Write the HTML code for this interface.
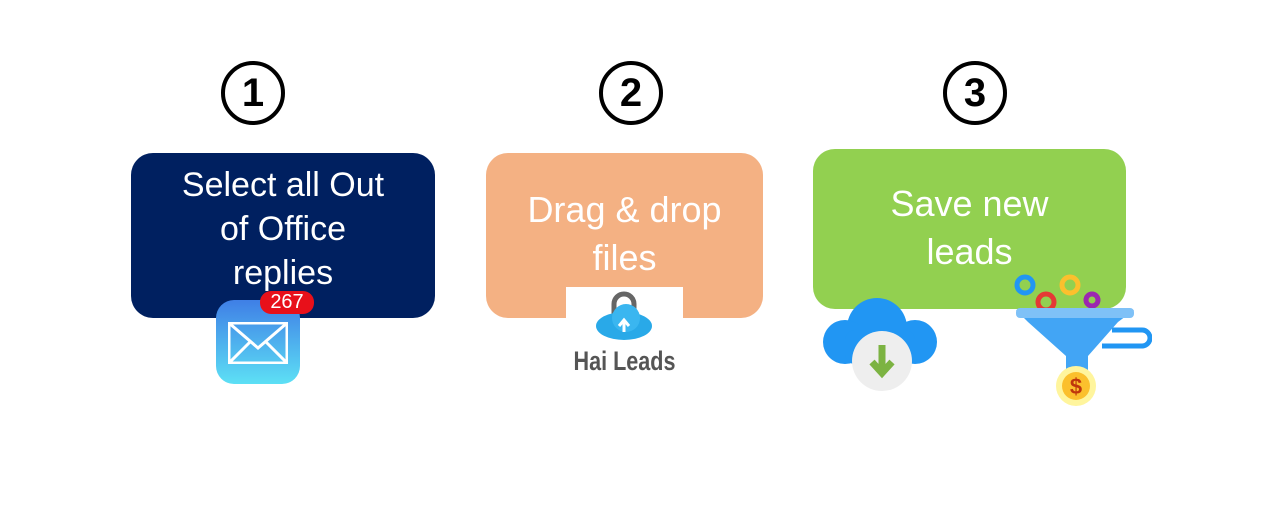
<!DOCTYPE html>
<html><head><style>
body{margin:0;width:1271px;height:509px;background:#fff;position:relative;overflow:hidden;font-family:"Liberation Sans",sans-serif}
.n{position:absolute;width:56px;height:56px;border:4px solid #000;border-radius:50%;text-align:center;line-height:56px;font-size:40px;font-weight:bold;color:#000}
.b{position:absolute;border-radius:22px;color:#fff;text-align:center;font-size:34px}
.b div{position:absolute;left:0;right:0}
</style></head><body>
<div class="n" style="left:221px;top:61px">1</div>
<div class="n" style="left:599px;top:61px">2</div>
<div class="n" style="left:943px;top:61px">3</div>

<div class="b" style="left:131px;top:153px;width:304px;height:165px;background:#002060">
<div style="top:10px;line-height:44px">Select all Out<br>of Office<br>replies</div></div>

<div class="b" style="left:486px;top:153px;width:277px;height:165px;background:#F4B183;font-size:36px">
<div style="top:33px;line-height:48px">Drag &amp; drop<br>files</div></div>

<div class="b" style="left:813px;top:149px;width:313px;height:160px;background:#92D050;font-size:36px">
<div style="top:31px;line-height:48px">Save new<br>leads</div></div>

<div style="position:absolute;left:216px;top:300px;width:84px;height:84px;border-radius:18px;background:linear-gradient(#3f7fe6,#5de0f5)"></div>
<svg style="position:absolute;left:228px;top:322px" width="60" height="42"><rect x="1" y="1" width="58" height="40" fill="none" stroke="#fff" stroke-width="3"/><path d="M1 1 L30 26 L59 1 M1 41 L22 20 M59 41 L38 20" fill="none" stroke="#fff" stroke-width="3"/></svg>
<div style="position:absolute;left:260px;top:291px;width:54px;height:23px;border-radius:11px;background:#e8101a;color:#fff;font-size:20px;line-height:23px;text-align:center">267</div>

<div style="position:absolute;left:566px;top:287px;width:117px;height:98px;background:#fff"></div>
<svg style="position:absolute;left:594px;top:290px" width="60" height="56"><path d="M20 24 V14 a10 10 0 0 1 20 0 V24" fill="none" stroke="#666" stroke-width="5"/><ellipse cx="30" cy="36" rx="28" ry="14" fill="#29a9e8"/><circle cx="32" cy="28" r="14" fill="#3ab6f0"/><path d="M30 42 V32 M25 36 L30 30 L35 36" stroke="#fff" stroke-width="3" fill="none"/></svg>
<div style="position:absolute;left:546px;top:346px;width:157px;text-align:center;font-size:27px;color:#555;font-weight:bold;transform:scaleX(0.8);white-space:nowrap">Hai Leads</div>

<svg style="position:absolute;left:820px;top:290px" width="125" height="105">
<circle cx="57" cy="38" r="30" fill="#2196f3"/><circle cx="25" cy="52" r="22" fill="#2196f3"/><circle cx="95" cy="52" r="22" fill="#2196f3"/><rect x="25" y="40" width="70" height="34" rx="10" fill="#2196f3"/>
<circle cx="62" cy="71" r="30" fill="#eee"/><path d="M62 55 V82 M52 72 L62 83 L72 72" stroke="#7cb342" stroke-width="7" fill="none"/></svg>

<svg style="position:absolute;left:1012px;top:272px" width="140" height="140">
<circle cx="13" cy="13" r="8" fill="none" stroke="#2196f3" stroke-width="5"/>
<circle cx="58" cy="13" r="8" fill="none" stroke="#fbc02d" stroke-width="5"/>
<circle cx="34" cy="30" r="8" fill="none" stroke="#e53935" stroke-width="5"/>
<circle cx="80" cy="28" r="6" fill="none" stroke="#9c27b0" stroke-width="5"/>
<path d="M100 58 H130 a8 8 0 0 1 0 16 H90" fill="none" stroke="#2196f3" stroke-width="5"/>
<path d="M4 38 H122 L106 50 L76 84 V104 H54 V84 L16 50 Z" fill="#42a5f5"/>
<rect x="4" y="36" width="118" height="10" rx="4" fill="#7fc1f7"/>
<circle cx="64" cy="114" r="20" fill="#fff59d"/><circle cx="64" cy="114" r="14" fill="#fbc02d"/>
<text x="64" y="122" text-anchor="middle" font-size="22" font-weight="bold" fill="#bf360c" font-family="Liberation Sans">$</text>
</svg>
</body></html>
